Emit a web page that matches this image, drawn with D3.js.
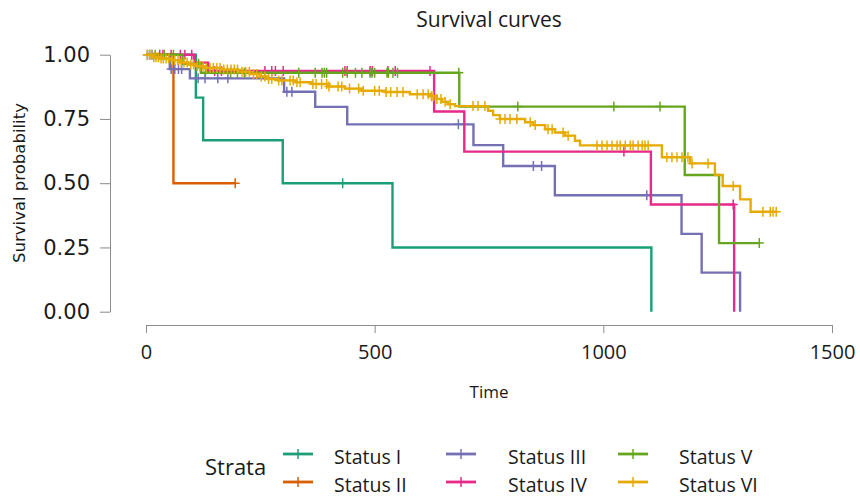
<!DOCTYPE html>
<html>
<head>
<meta charset="utf-8">
<script src="https://cdn.jsdelivr.net/npm/d3@7"></script>
<style>
  html, body { margin: 0; padding: 0; background: #fff; }
  svg { display: block; }
</style>
</head>
<body>
<div id="chart"></div>
<script>
// ---- Data ----
const strata = ["Status I", "Status II", "Status III", "Status IV", "Status V", "Status VI"];
const palette = ["#1B9E77", "#D95F02", "#7570B3", "#E7298A", "#66A61E", "#E6AB02"];

// Kaplan–Meier step points: time of step, survival after step
const timesI = [0, 109, 125, 299, 539, 1105];
const survI  = [1, 0.833, 0.667, 0.5, 0.25, 0];
const censorI = [430];
const endI = 1105;

const timesII = [0, 60];
const survII  = [1, 0.5];
const censorII = [195];
const endII = 195;

const timesIII = [0, 52, 96, 302, 370, 440, 716, 781, 894, 1171, 1215, 1299];
const survIII  = [1, 0.944, 0.908, 0.856, 0.797, 0.729, 0.648, 0.567, 0.453, 0.303, 0.152, 0];
const censorIII = [3, 8, 13, 55, 63, 71, 78, 114, 129, 157, 179, 308, 319, 683, 847, 865, 1095];
const endIII = 1299;

const timesIV = [0, 105, 136, 630, 696, 1104, 1286];
const survIV  = [1, 0.969, 0.937, 0.779, 0.623, 0.417, 0];
const censorIV = [30, 37, 55, 75, 85, 100, 150, 165, 260, 275, 283, 300, 435, 440, 490, 495, 529, 545, 621, 1045, 1284];
const endIV = 1286;

const timesV = [0, 80, 120, 685, 1178, 1253];
const survV  = [1, 0.965, 0.93, 0.798, 0.532, 0.267];
const censorV = [20, 40, 60, 115, 130, 185, 200, 215, 334, 370, 385, 390, 395, 430, 440, 458, 472, 490, 494, 500, 527, 530, 540, 550, 684, 813, 1023, 1124, 1341];
const endV = 1341;

const timesVI = [0, 13, 31, 55, 74, 92, 111, 129, 164, 201, 227, 249, 267, 289, 326, 363, 398, 435, 472, 523, 577, 621, 636, 647, 660, 676, 748, 759, 774, 829, 846, 873, 894, 916, 938, 949, 1128, 1190, 1244, 1261, 1299, 1322];
const survVI  = [1, 0.99, 0.985, 0.978, 0.97, 0.962, 0.955, 0.948, 0.942, 0.934, 0.925, 0.915, 0.905, 0.9, 0.893, 0.886, 0.876, 0.868, 0.86, 0.855, 0.846, 0.838, 0.828, 0.817, 0.807, 0.8, 0.782, 0.765, 0.75, 0.737, 0.726, 0.71, 0.697, 0.685, 0.665, 0.647, 0.601, 0.577, 0.532, 0.489, 0.437, 0.389];
const censorVI = [3, 8, 12, 17, 22, 27, 33, 38, 44, 50, 57, 63, 70, 77, 83, 90, 98, 104, 112, 118, 125, 132, 140, 147, 155, 162, 170, 178, 186, 193, 200, 210, 218, 226, 235, 242, 252, 260, 268, 275, 290, 297, 315, 322, 330, 337, 365, 372, 384, 395, 400, 420, 428, 445, 465, 475, 500, 510, 525, 535, 549, 562, 593, 606, 617, 624, 628, 636, 645, 654, 665, 715, 726, 741, 774, 785, 796, 811, 840, 851, 879, 888, 912, 923, 986, 997, 1008, 1019, 1030, 1037, 1048, 1059, 1065, 1076, 1085, 1091, 1098, 1139, 1150, 1161, 1172, 1185, 1194, 1229, 1284, 1349, 1365, 1371, 1378];
const endVI = 1380;

const xTicks = [0, 500, 1000, 1500];
const yTicks = [0, 0.25, 0.5, 0.75, 1];
const titleText = "Survival curves";
const xLabel = "Time";
const yLabel = "Survival probability";
const legendTitle = "Strata";

// ---- Build series ----
const series = [
  { name: strata[0], times: timesI, surv: survI, censor: censorI, end: endI },
  { name: strata[1], times: timesII, surv: survII, censor: censorII, end: endII },
  { name: strata[2], times: timesIII, surv: survIII, censor: censorIII, end: endIII },
  { name: strata[3], times: timesIV, surv: survIV, censor: censorIV, end: endIV },
  { name: strata[4], times: timesV, surv: survV, censor: censorV, end: endV },
  { name: strata[5], times: timesVI, surv: survVI, censor: censorVI, end: endVI }
].map((s, i) => ({ ...s, color: palette[i] }));

function survAt(s, t) {
  let v = s.surv[0];
  for (let i = 0; i < s.times.length; i++) if (s.times[i] <= t) v = s.surv[i];
  return v;
}

// ---- Layout ----
const W = 860, H = 498;
const svg = d3.select("#chart").append("svg").attr("width", W).attr("height", H);

const x = d3.scaleLinear().domain([0, 1500]).range([146, 832]);
const y = d3.scaleLinear().domain([0, 1]).range([311.7, 54.7]);

const axisColor = "#8c8c8c";
const textColor = "#1a1a1a";
const sans = "'Open Sans', 'DejaVu Sans', sans-serif";

// Title
svg.append("text")
  .attr("x", 489).attr("y", 27)
  .attr("text-anchor", "middle")
  .attr("font-family", sans)
  .attr("font-size", 21)
  .attr("fill", textColor)
  .text(titleText);

// Y axis
const yAxis = svg.append("g")
  .attr("transform", "translate(110,0)")
  .call(d3.axisLeft(y).tickValues(yTicks).tickFormat(d3.format(".2f")).tickSize(10).tickSizeOuter(0).tickPadding(10));
yAxis.select(".domain").attr("stroke", axisColor);
yAxis.selectAll(".tick line").attr("stroke", axisColor);
yAxis.selectAll(".tick text")
  .attr("font-family", "'DejaVu Sans', sans-serif")
  .attr("font-size", 21)
  .attr("fill", textColor);

// X axis
const xAxis = svg.append("g")
  .attr("transform", "translate(0,325)")
  .call(d3.axisBottom(x).tickValues(xTicks).tickFormat(d3.format("d")).tickSize(8).tickSizeOuter(0).tickPadding(12));
xAxis.select(".domain").attr("stroke", axisColor);
xAxis.selectAll(".tick line").attr("stroke", axisColor);
xAxis.selectAll(".tick text")
  .attr("font-family", sans)
  .attr("font-size", 20)
  .attr("fill", textColor);

// Axis labels
svg.append("text")
  .attr("x", 489).attr("y", 398)
  .attr("text-anchor", "middle")
  .attr("font-family", sans)
  .attr("font-size", 17)
  .attr("fill", textColor)
  .text(xLabel);

svg.append("text")
  .attr("transform", "translate(25,183) rotate(-90)")
  .attr("text-anchor", "middle")
  .attr("font-family", "'DejaVu Sans', sans-serif")
  .attr("font-size", 16.5)
  .attr("fill", textColor)
  .text(yLabel);

// Curves
const line = d3.line().x(d => x(d[0])).y(d => y(d[1])).curve(d3.curveStepAfter);
const plot = svg.append("g");
series.forEach(s => {
  const pts = s.times.map((t, i) => [t, s.surv[i]]);
  const last = pts[pts.length - 1];
  if (s.end > last[0]) pts.push([s.end, last[1]]);
  plot.append("path")
    .attr("d", line(pts))
    .attr("fill", "none")
    .attr("stroke", s.color)
    .attr("stroke-width", 2.4)
    .attr("stroke-linejoin", "miter");
  plot.append("g").selectAll("path")
    .data(s.censor)
    .join("path")
    .attr("d", t => {
      const cx = x(t), cy = y(survAt(s, t));
      return `M${cx - 4.5},${cy}H${cx + 4.5}M${cx},${cy - 5}V${cy + 5}`;
    })
    .attr("stroke", s.color)
    .attr("stroke-width", 1.5)
    .attr("fill", "none");
});

// Legend
const legend = svg.append("g");
legend.append("text")
  .attr("x", 205).attr("y", 475)
  .attr("font-family", sans)
  .attr("font-size", 22)
  .attr("fill", textColor)
  .text(legendTitle);

const colKeyX = [283, 446, 618];
const colTextX = [334, 508, 679];
const rowY = [454, 482];
series.forEach((s, i) => {
  const col = Math.floor(i / 2), row = i % 2;
  const kx = colKeyX[col], ky = rowY[row];
  legend.append("line")
    .attr("x1", kx).attr("x2", kx + 30)
    .attr("y1", ky).attr("y2", ky)
    .attr("stroke", s.color).attr("stroke-width", 2.8);
  legend.append("line")
    .attr("x1", kx + 15).attr("x2", kx + 15)
    .attr("y1", ky - 5).attr("y2", ky + 5)
    .attr("stroke", s.color).attr("stroke-width", 1.5);
  legend.append("text")
    .attr("x", colTextX[col]).attr("y", ky + 10)
    .attr("font-family", sans)
    .attr("font-size", 19.5)
    .attr("fill", textColor)
    .text(s.name);
});
</script>
</body>
</html>
